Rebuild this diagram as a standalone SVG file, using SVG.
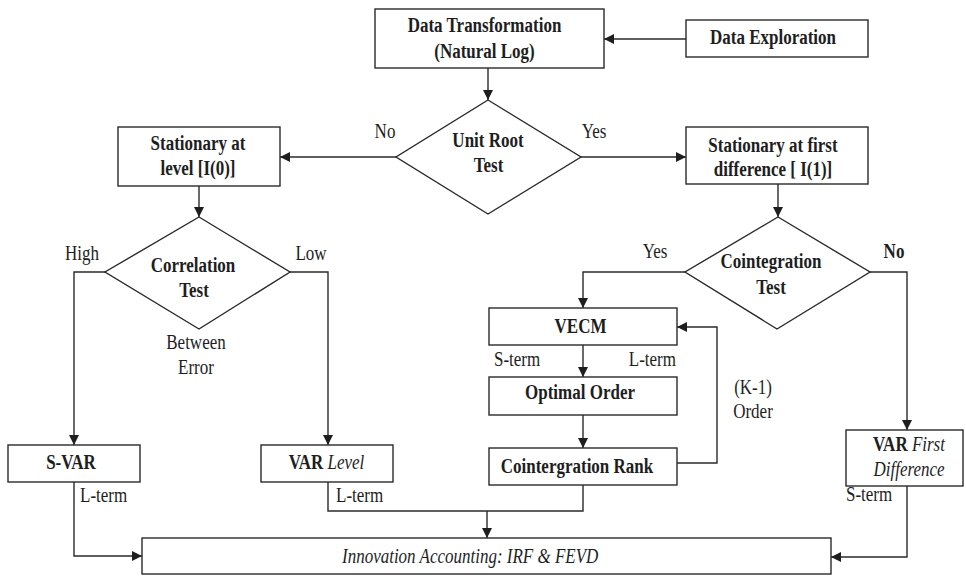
<svg xmlns="http://www.w3.org/2000/svg" width="966" height="576" viewBox="0 0 966 576">
<defs>
<marker id="ah" markerUnits="userSpaceOnUse" markerWidth="11" markerHeight="11" refX="10" refY="5" orient="auto">
<path d="M0,0 L10,5 L0,10 z" fill="#1e1e1e"/>
</marker>
<style>
.box{fill:#fff;stroke:#2a2a2a;stroke-width:1.4}
.ln{fill:none;stroke:#2a2a2a;stroke-width:1.4}
.arr{fill:none;stroke:#2a2a2a;stroke-width:1.4;marker-end:url(#ah)}
text{font-family:"Liberation Serif","Times New Roman",serif;font-size:17px;fill:#1e1e1e}
.b{font-weight:bold}
.c{text-anchor:middle}
.i{font-style:italic;font-weight:normal}
</style>
</defs>
<rect width="966" height="576" fill="#fff"/>

<g id="connectors">
<path class="arr" d="M686,39 L604,39"/>
<path class="arr" d="M488,68 L488,100"/>
<path class="arr" d="M396,157 L280,157"/>
<path class="arr" d="M581,157 L686,157"/>
<path class="arr" d="M199,186 L199,217"/>
<path class="arr" d="M105,272 L74,272 L74,445"/>
<path class="arr" d="M290,272 L328,272 L328,445"/>
<path class="arr" d="M778,184 L778,217"/>
<path class="arr" d="M685,272 L583,272 L583,308"/>
<path class="arr" d="M583,345 L583,377"/>
<path class="arr" d="M583,415 L583,448"/>
<path class="arr" d="M677,463 L717,463 L717,327 L677,327"/>
<path class="arr" d="M870,272 L907,272 L907,430"/>
<path class="arr" d="M907,486 L907,557 L831,557"/>
<path class="arr" d="M74,482 L74,556 L142,556"/>
<path class="ln" d="M328,482 L328,511 L583,511 L583,485"/>
<path class="arr" d="M487,511 L487,538"/>
<text transform="translate(385,138) scale(1,1.2)" class="c">No</text>
<text transform="translate(594,138) scale(1,1.2)" class="c">Yes</text>
<text transform="translate(82,260) scale(1,1.2)" class="c">High</text>
<text transform="translate(311,260) scale(1,1.2)" class="c">Low</text>
<text transform="translate(655,258) scale(1,1.2)" class="c">Yes</text>
<text transform="translate(894,258) scale(1,1.2)" class="c b">No</text>
<text transform="translate(196,349) scale(1,1.2)" class="c">Between</text>
<text transform="translate(196,374) scale(1,1.2)" class="c">Error</text>
<text transform="translate(80,502) scale(1,1.2)">L-term</text>
<text transform="translate(336,502) scale(1,1.2)">L-term</text>
<text transform="translate(494,366) scale(1,1.2)">S-term</text>
<text transform="translate(676,366) scale(1,1.2)" text-anchor="end">L-term</text>
<text transform="translate(753,394) scale(1,1.2)" class="c">(K-1)</text>
<text transform="translate(753,418) scale(1,1.2)" class="c">Order</text>
<text transform="translate(846,501) scale(1,1.2)">S-term</text>
</g>

<g id="data-transformation">
<rect class="box" x="375" y="9" width="229" height="59"/>
<text transform="translate(484.5,32) scale(1,1.2)" class="c b">Data Transformation</text>
<text transform="translate(484.5,58) scale(1,1.2)" class="c b">(Natural Log)</text>
</g>
<g id="data-exploration">
<rect class="box" x="686" y="20" width="182" height="37"/>
<text transform="translate(773,44) scale(1,1.2)" class="c b">Data Exploration</text>
</g>
<g id="unit-root-test">
<polygon class="box" points="488,100 581,157 488,214 396,157"/>
<text transform="translate(488,147) scale(1,1.2)" class="c b">Unit Root</text>
<text transform="translate(488.5,172) scale(1,1.2)" class="c b">Test</text>
</g>
<g id="stationary-level">
<rect class="box" x="118" y="127" width="162" height="59"/>
<text transform="translate(198,150) scale(1,1.2)" class="c b">Stationary at</text>
<text transform="translate(198,175) scale(1,1.2)" class="c b">level [I(0)]</text>
</g>
<g id="stationary-first-difference">
<rect class="box" x="686" y="127" width="182" height="57"/>
<text transform="translate(773,152) scale(1,1.2)" class="c b">Stationary at first</text>
<text transform="translate(773,176) scale(1,1.2)" class="c b">difference [ I(1)]</text>
</g>
<g id="correlation-test">
<polygon class="box" points="199,217 290,272 199,329 105,272"/>
<text transform="translate(193,272) scale(1,1.2)" class="c b">Correlation</text>
<text transform="translate(194,297) scale(1,1.2)" class="c b">Test</text>
</g>
<g id="cointegration-test">
<polygon class="box" points="778,217 870,272 777,329 685,272"/>
<text transform="translate(771,268) scale(1,1.2)" class="c b">Cointegration</text>
<text transform="translate(771,294) scale(1,1.2)" class="c b">Test</text>
</g>
<g id="s-var">
<rect class="box" x="8" y="445" width="132" height="37"/>
<text transform="translate(71,469) scale(1,1.2)" class="c b">S-VAR</text>
</g>
<g id="var-level">
<rect class="box" x="261" y="445" width="132" height="37"/>
<text transform="translate(326.5,469) scale(1,1.2)" class="c b">VAR <tspan class="i">Level</tspan></text>
</g>
<g id="vecm">
<rect class="box" x="489" y="308" width="188" height="37"/>
<text transform="translate(580.5,333) scale(1,1.2)" class="c b">VECM</text>
</g>
<g id="optimal-order">
<rect class="box" x="489" y="377" width="188" height="38"/>
<text transform="translate(580,399) scale(1,1.2)" class="c b">Optimal Order</text>
</g>
<g id="cointegration-rank">
<rect class="box" x="489" y="448" width="188" height="37"/>
<text transform="translate(577,473) scale(1,1.2)" class="c b">Cointergration Rank</text>
</g>
<g id="var-first-difference">
<rect class="box" x="846" y="430" width="117" height="56"/>
<text transform="translate(909,451) scale(1,1.2)" class="c b">VAR <tspan class="i">First</tspan></text>
<text transform="translate(909,476) scale(1,1.2)" class="c i">Difference</text>
</g>
<g id="innovation-accounting">
<rect class="box" x="142" y="538" width="689" height="36"/>
<text transform="translate(342,563) scale(1,1.2)" class="i">Innovation Accounting: IRF &amp; FEVD</text>
</g>
</svg>
